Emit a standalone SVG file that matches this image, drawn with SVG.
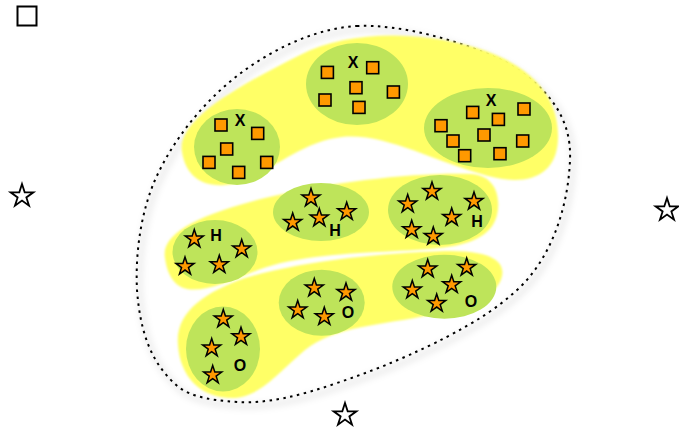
<svg xmlns="http://www.w3.org/2000/svg" xmlns:xlink="http://www.w3.org/1999/xlink" width="679" height="433" viewBox="0 0 679 433">
<style>
.band{fill:#ffff66;filter:url(#soft)}
.grp{fill:#bee45a}
.sq{fill:#ff9900;stroke:#000;stroke-width:1.6}
.st{fill:#ff9900;stroke:#000;stroke-width:1.5;stroke-linejoin:miter}
.ost{fill:#fff;stroke:#000;stroke-width:1.8}
.lbl{font-family:"Liberation Sans",Arial,sans-serif;font-weight:bold;font-size:16px;text-anchor:middle;fill:#000}
.outline{fill:none;stroke:#000;stroke-width:2;stroke-dasharray:2.5 4.5}
.shadow{fill:none;stroke:#000;stroke-opacity:0.07;stroke-width:6;filter:url(#blur)}
</style>
<defs>
<filter id="soft" x="-5%" y="-5%" width="110%" height="110%"><feGaussianBlur stdDeviation="0.8"/></filter>
<filter id="blur" x="-10%" y="-10%" width="120%" height="120%"><feGaussianBlur stdDeviation="3"/></filter>
<path id="star" d="M0,-9.5 L2.13,-2.94 L9.04,-2.94 L3.45,1.12 L5.58,7.69 L0,3.63 L-5.58,7.69 L-3.45,1.12 L-9.04,-2.94 L-2.13,-2.94 Z"/>
<path id="ostar" d="M0,-12 L2.69,-3.71 L11.41,-3.71 L4.36,1.42 L7.05,9.71 L0,4.58 L-7.05,9.71 L-4.36,1.42 L-11.41,-3.71 L-2.69,-3.71 Z"/>
</defs>

<rect id="legend-square" x="17.5" y="6.5" width="19" height="19" fill="#fff" stroke="#000" stroke-width="2"/>
<use id="star-left" href="#ostar" class="ost" x="22" y="196"/>
<use id="star-right" href="#ostar" class="ost" x="667" y="210"/>
<use id="star-bottom" href="#ostar" class="ost" x="345" y="415"/>

<g id="outline">
<path class="shadow" transform="translate(3,4)" d="M357,26 C400,24 460,40 505,62 C545,85 572,115 570,160 C568,210 550,260 517,290 C490,315 460,330 437,342 C400,360 370,372 337,383 C300,396 265,404 237,402 C205,400 185,395 173,382 C150,360 140,330 137,290 C135,250 142,210 155,180 C175,135 210,95 245,70 C280,45 320,28 357,26 Z"/>
<path class="outline" d="M357,26 C400,24 460,40 505,62 C545,85 572,115 570,160 C568,210 550,260 517,290 C490,315 460,330 437,342 C400,360 370,372 337,383 C300,396 265,404 237,402 C205,400 185,395 173,382 C150,360 140,330 137,290 C135,250 142,210 155,180 C175,135 210,95 245,70 C280,45 320,28 357,26 Z"/>
</g>

<g id="band-X">
<path class="band" d="M182,152 C176,120 240,85 300,55 C345,32 410,30 470,46 C535,64 560,100 558,140 C556,178 525,186 488,176 C430,160 385,133 342,137 C295,142 262,182 225,185 C198,187 185,172 182,152 Z"/>
</g>
<g id="band-H">
<path class="band" d="M165,258 C160,232 205,213 265,198 C335,181 420,172 472,174 C496,176 501,198 497,215 C492,236 470,246 430,249 C380,253 305,252 258,270 C228,282 205,292 187,289 C173,286 167,273 165,258 Z"/>
</g>
<g id="band-O">
<path class="band" d="M178,345 C175,312 205,292 245,278 C305,260 385,253 445,251 C492,250 505,262 502,276 C498,296 470,306 430,315 C382,325 335,326 305,350 C275,376 258,398 232,398 C200,398 180,376 178,345 Z"/>
</g>

<g id="group-X1">
<ellipse class="grp" cx="237" cy="147" rx="43" ry="38"/>
<rect class="sq" x="215" y="119" width="12" height="12"/>
<rect class="sq" x="251.7" y="127.4" width="12" height="12"/>
<rect class="sq" x="220.7" y="143" width="12" height="12"/>
<rect class="sq" x="203" y="156.4" width="12" height="12"/>
<rect class="sq" x="260.7" y="156.4" width="12" height="12"/>
<rect class="sq" x="232.7" y="166.4" width="12" height="12"/>
<text class="lbl" x="240" y="126">X</text>
</g>
<g id="group-X2">
<ellipse class="grp" cx="357" cy="84" rx="51" ry="41"/>
<rect class="sq" x="321.4" y="66.4" width="12" height="12"/>
<rect class="sq" x="366.7" y="61.7" width="12" height="12"/>
<rect class="sq" x="350" y="81.7" width="12" height="12"/>
<rect class="sq" x="319" y="94" width="12" height="12"/>
<rect class="sq" x="387.4" y="86" width="12" height="12"/>
<rect class="sq" x="353" y="101.4" width="12" height="12"/>
<text class="lbl" x="353" y="68">X</text>
</g>
<g id="group-X3">
<ellipse class="grp" cx="488" cy="128" rx="64" ry="40"/>
<rect class="sq" x="466.7" y="106.4" width="12" height="12"/>
<rect class="sq" x="518" y="103" width="12" height="12"/>
<rect class="sq" x="492.4" y="113.4" width="12" height="12"/>
<rect class="sq" x="435" y="119.7" width="12" height="12"/>
<rect class="sq" x="478" y="129" width="12" height="12"/>
<rect class="sq" x="447" y="135" width="12" height="12"/>
<rect class="sq" x="516.7" y="135" width="12" height="12"/>
<rect class="sq" x="458.7" y="149.7" width="12" height="12"/>
<rect class="sq" x="494" y="147.7" width="12" height="12"/>
<text class="lbl" x="491" y="106">X</text>
</g>

<g id="group-H1">
<ellipse class="grp" cx="215" cy="252" rx="42.5" ry="32"/>
<use href="#star" class="st" x="194.3" y="239"/>
<use href="#star" class="st" x="241.7" y="249"/>
<use href="#star" class="st" x="185" y="266.4"/>
<use href="#star" class="st" x="219.3" y="264.7"/>
<text class="lbl" x="216" y="241">H</text>
</g>
<g id="group-H2">
<ellipse class="grp" cx="321" cy="212" rx="48" ry="29"/>
<use href="#star" class="st" x="311" y="198"/>
<use href="#star" class="st" x="346.7" y="211.7"/>
<use href="#star" class="st" x="292.7" y="222.4"/>
<use href="#star" class="st" x="319.3" y="218"/>
<text class="lbl" x="335" y="236">H</text>
</g>
<g id="group-H3">
<ellipse class="grp" cx="440" cy="210" rx="52" ry="35"/>
<use href="#star" class="st" x="432" y="191.4"/>
<use href="#star" class="st" x="407.7" y="204"/>
<use href="#star" class="st" x="474" y="201.4"/>
<use href="#star" class="st" x="451.7" y="217.4"/>
<use href="#star" class="st" x="411.7" y="229.7"/>
<use href="#star" class="st" x="433.3" y="236.4"/>
<text class="lbl" x="477" y="227">H</text>
</g>

<g id="group-O1">
<ellipse class="grp" cx="223" cy="349" rx="37" ry="42.5"/>
<use href="#star" class="st" x="223.3" y="319"/>
<use href="#star" class="st" x="241" y="336.7"/>
<use href="#star" class="st" x="211.7" y="348"/>
<use href="#star" class="st" x="212.7" y="375"/>
<text class="lbl" x="240" y="371">O</text>
</g>
<g id="group-O2">
<ellipse class="grp" cx="321.7" cy="302.7" rx="43" ry="33"/>
<use href="#star" class="st" x="314.3" y="288"/>
<use href="#star" class="st" x="346" y="292.4"/>
<use href="#star" class="st" x="297.7" y="310"/>
<use href="#star" class="st" x="324.3" y="316.7"/>
<text class="lbl" x="348" y="318">O</text>
</g>
<g id="group-O3">
<ellipse class="grp" cx="444.3" cy="286.7" rx="52" ry="32"/>
<use href="#star" class="st" x="427.7" y="269"/>
<use href="#star" class="st" x="466.7" y="267.4"/>
<use href="#star" class="st" x="412.3" y="290"/>
<use href="#star" class="st" x="451.7" y="284.7"/>
<use href="#star" class="st" x="436.7" y="303.4"/>
<text class="lbl" x="471" y="307">O</text>
</g>
<g id="connectors"/>
</svg>
